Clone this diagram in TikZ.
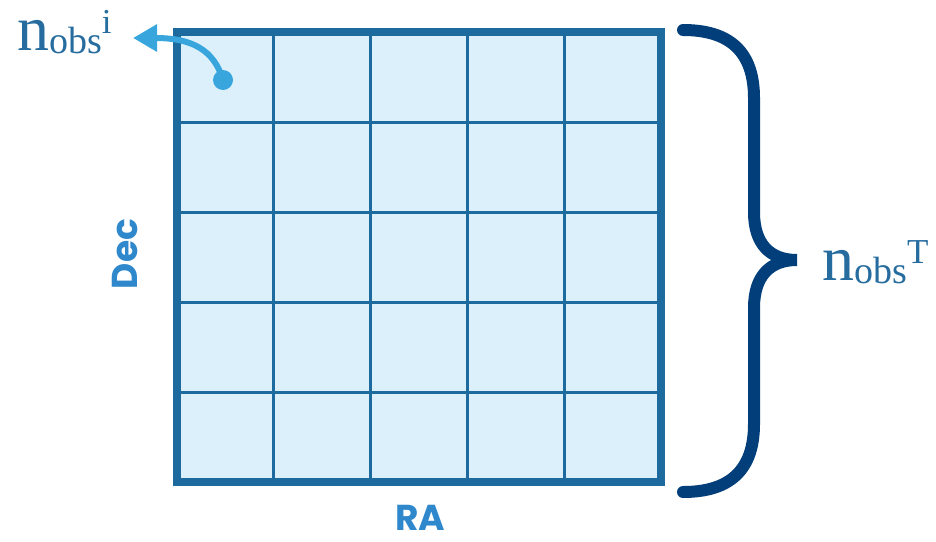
\documentclass[tikz,border=0pt]{standalone}
\usepackage{fontspec}
\setmainfont{Liberation Serif}
\newfontfamily\axisfont{Poppins}
\usetikzlibrary{arrows.meta,positioning}
\usepackage{xcolor}
\definecolor{gridblue}{RGB}{28,106,158}
\definecolor{cellfill}{RGB}{220,240,251}
\definecolor{bracenavy}{RGB}{2,63,122}
\definecolor{obsblue}{RGB}{38,108,158}
\definecolor{pointblue}{RGB}{56,166,220}
\definecolor{axisblue}{RGB}{48,136,204}
\newcommand{\nobslabel}[1]{{\fontsize{64}{64}\selectfont n}\raisebox{-3pt}{\fontsize{38}{38}\selectfont obs}\raisebox{17pt}{\fontsize{35}{35}\selectfont #1}}
\tikzset{
  axislabel/.style={text=axisblue, font=\axisfont\bfseries\fontsize{36}{36}\selectfont, inner sep=0pt},
  obslabel/.style={text=obsblue, inner sep=0pt, anchor=base west}
}
\begin{document}
\begin{tikzpicture}[x=1pt, y=-1pt, >=Latex]
\useasboundingbox (0,0) rectangle (936,541);
\fill[cellfill] (177,32) rectangle (661,482);
\foreach \i in {1,...,4} {
  \draw[gridblue, line width=3pt] ({177+96.8*\i},32) -- ({177+96.8*\i},482);
  \draw[gridblue, line width=3pt] (177,{32+90*\i}) -- (661,{32+90*\i});
}
\draw[gridblue, line width=8pt] (177,32) rectangle (661,482);
\node[axislabel, rotate=90] (dec) at (125,254) {Dec};
\node[axislabel] (ra) at (420,518) {RA};
\node[obslabel] (nobsi) at (17,50) {\nobslabel{i}};
\node[circle, fill=pointblue, minimum size=20pt, inner sep=0pt] (obsdot) at (223,80) {};
\coordinate (tipi) at (133,38);
\draw[pointblue, line width=6pt, -{Triangle[length=24pt,width=26pt]}]
  (obsdot.center) .. controls (214,50) and (192,38) .. (tipi);
\draw[bracenavy, line width=12pt, line cap=round]
  (683,30) .. controls (730,30) and (754,52) .. (754,98) -- (754,212)
  .. controls (754,244) and (770,260) .. (797,260)
  .. controls (770,260) and (754,276) .. (754,308) -- (754,424)
  .. controls (754,470) and (730,492) .. (683,492);
\node[obslabel] (nobst) at (822,280) {\nobslabel{T}};
\end{tikzpicture}
\end{document}
